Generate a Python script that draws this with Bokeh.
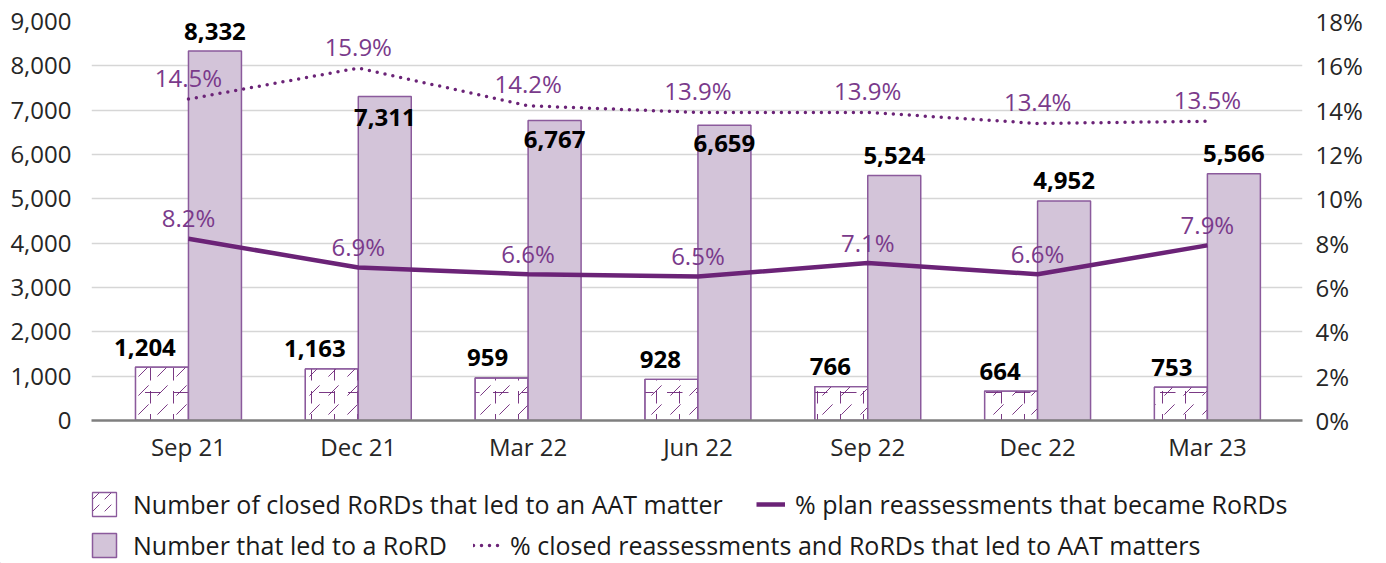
from bokeh.plotting import figure
from bokeh.layouts import column
from bokeh.models import (ColumnDataSource, Range1d, LinearAxis, FixedTicker,
                          NumeralTickFormatter, PrintfTickFormatter, Legend, LegendItem)
from bokeh.core.properties import value
from bokeh.embed import file_html
from bokeh.resources import INLINE

# ---------------- data ----------------
categories = ["Sep 21", "Dec 21", "Mar 22", "Jun 22", "Sep 22", "Dec 22", "Mar 23"]
aat_matters = [1204, 1163, 959, 928, 766, 664, 753]
rord_numbers = [8332, 7311, 6767, 6659, 5524, 4952, 5566]
pct_plan_to_rord = [8.2, 6.9, 6.6, 6.5, 7.1, 6.6, 7.9]
pct_closed_to_aat = [14.5, 15.9, 14.2, 13.9, 13.9, 13.4, 13.5]
left_ticks = [0, 1000, 2000, 3000, 4000, 5000, 6000, 7000, 8000, 9000]
right_ticks = [0, 2, 4, 6, 8, 10, 12, 14, 16, 18]
legend_labels = ["Number of closed RoRDs that led to an AAT matter",
                 "% plan reassessments that became RoRDs",
                 "Number that led to a RoRD",
                 "% closed reassessments and RoRDs that led to AAT matters"]

# ---------------- styles ----------------
FONT = "Open Sans"
PURPLE = "#6B2377"
LABEL_PURPLE = "#7A3A8B"
BAR_FILL = "#D3C4D9"
BAR_LINE = "#8B5A9C"
rord_label_dy = [-20, 21, 19, 18, -20, -20, -20]
aat_label_dx = [-17, -17, -14, -11, -11, -11, -9]
BAR_W = 0.312
HATCH_LAYERS = [("right_diagonal_dash", 19), ("vertical_dash", 23), ("horizontal_dash", 29)]

idx = list(range(len(categories)))

W = 1386
H_MAIN = 470
H_LEG = 563 - H_MAIN

p = figure(width=W, height=H_MAIN, x_range=Range1d(-0.571, 6.56), y_range=Range1d(0, 9000),
           output_backend="svg", toolbar_location=None,
           min_border_left=91, min_border_right=84, min_border_top=21, min_border_bottom=50)
p.frame_align = False
p.extra_y_ranges = {"pct": Range1d(0, 18)}
p.outline_line_color = None
p.xgrid.visible = False

# left axis
ya = p.yaxis[0]
ya.ticker = FixedTicker(ticks=left_ticks)
ya.formatter = NumeralTickFormatter(format="0,0")
ya.axis_line_color = None
ya.major_tick_line_color = None
ya.minor_tick_line_color = None
ya.major_label_text_font = FONT
ya.major_label_text_font_size = "24px"
ya.major_label_text_color = "#262626"
ya.major_label_standoff = 14

p.ygrid.ticker = FixedTicker(ticks=left_ticks)
p.ygrid.grid_line_color = "#D6D6D6"
p.ygrid.grid_line_width = 1.5

# right axis
ra = LinearAxis(y_range_name="pct", ticker=FixedTicker(ticks=right_ticks),
                formatter=PrintfTickFormatter(format="%d%%"))
ra.axis_line_color = None
ra.major_tick_line_color = None
ra.minor_tick_line_color = None
ra.major_label_text_font = FONT
ra.major_label_text_font_size = "24px"
ra.major_label_text_color = "#262626"
ra.major_label_standoff = 7
p.add_layout(ra, "right")

# bottom axis
xa = p.xaxis[0]
xa.ticker = FixedTicker(ticks=idx)
xa.major_label_overrides = {i: c for i, c in zip(idx, categories)}
xa.axis_line_color = "#7F7F7F"
xa.axis_line_width = 2.5
xa.major_tick_line_color = None
xa.minor_tick_line_color = None
xa.major_label_text_font = FONT
xa.major_label_text_font_size = "24px"
xa.major_label_text_color = "#262626"
xa.major_label_standoff = 3

# ---------------- sources ----------------
aat_src = ColumnDataSource(dict(
    x=[i - BAR_W / 2 for i in idx], top=aat_matters,
    txt=[f"{v:,}" for v in aat_matters], dx=aat_label_dx))
rord_src = ColumnDataSource(dict(
    x=[i + BAR_W / 2 for i in idx], top=rord_numbers,
    txt=[f"{v:,}" for v in rord_numbers], dy=rord_label_dy))
plan_src = ColumnDataSource(dict(x=idx, y=pct_plan_to_rord,
                                 txt=[f"{v:.1f}%" for v in pct_plan_to_rord]))
aat_pct_src = ColumnDataSource(dict(x=idx, y=pct_closed_to_aat,
                                    txt=[f"{v:.1f}%" for v in pct_closed_to_aat]))

HATCH_BASE = dict(fill_color="white", line_color=BAR_LINE, line_width=1.3)
HATCH_STYLE = dict(hatch_color=PURPLE, hatch_weight=1.0, hatch_alpha=0.9)
RORD_STYLE = dict(fill_color=BAR_FILL, line_color=BAR_LINE, line_width=1.5)
PLAN_STYLE = dict(line_color=PURPLE, line_width=4.5)
AATP_STYLE = dict(line_color=PURPLE, line_width=3.5, line_dash="0 8", line_cap="round")

# ---------------- bars ----------------
p.vbar(x="x", top="top", width=BAR_W, source=aat_src, **HATCH_BASE)
for pat, sc in HATCH_LAYERS:
    p.vbar(x="x", top="top", width=BAR_W, source=aat_src, fill_alpha=0, line_alpha=0,
           hatch_pattern=pat, hatch_scale=sc, **HATCH_STYLE)
p.vbar(x="x", top="top", width=BAR_W, source=aat_src, fill_alpha=0,
       line_color=BAR_LINE, line_width=1.3)
p.vbar(x="x", top="top", width=BAR_W, source=rord_src, **RORD_STYLE)

# ---------------- lines ----------------
p.line("x", "y", source=plan_src, y_range_name="pct", **PLAN_STYLE)
p.line("x", "y", source=aat_pct_src, y_range_name="pct", **AATP_STYLE)

# ---------------- labels ----------------
p.text("x", "top", text="txt", source=aat_src, x_offset="dx", y_offset=-20,
       text_align="center", text_baseline="middle", text_font=value(FONT),
       text_font_size="24px", text_font_style="bold", text_color="black")
p.text("x", "top", text="txt", source=rord_src, y_offset="dy",
       text_align="center", text_baseline="middle", text_font=value(FONT),
       text_font_size="24px", text_font_style="bold", text_color="black")
p.text("x", "y", text="txt", source=plan_src, y_range_name="pct", y_offset=-21,
       text_align="center", text_baseline="middle", text_font=value(FONT),
       text_font_size="24px", text_color=LABEL_PURPLE)
p.text("x", "y", text="txt", source=aat_pct_src, y_range_name="pct", y_offset=-22,
       text_align="center", text_baseline="middle", text_font=value(FONT),
       text_font_size="24px", text_color=LABEL_PURPLE)

# ---------------- legend panel ----------------
lp = figure(width=W, height=H_LEG, x_range=Range1d(0, 1), y_range=Range1d(0, 1),
            output_backend="svg", toolbar_location=None,
            x_axis_location=None, y_axis_location=None,
            min_border=0, min_border_left=0, min_border_right=0,
            min_border_top=0, min_border_bottom=0, outline_line_color=None)
lp.frame_align = False
lp.grid.visible = False
# legend-only renderers: kept entirely outside the visible range
lg_hatch = lp.vbar(x=[-50], top=[-50], bottom=[-51], width=0.1, **HATCH_BASE,
                   hatch_pattern="right_diagonal_dash", hatch_scale=12, **HATCH_STYLE)
lg_rord = lp.vbar(x=[-50], top=[-50], bottom=[-51], width=0.1, **RORD_STYLE)
lg_plan = lp.line(x=[-50, -49], y=[-50, -50], **PLAN_STYLE)
lg_aatp = lp.line(x=[-50, -49], y=[-50, -50], **AATP_STYLE)


def add_legend(label, renderer, loc, gw, gh, standoff):
    lg = Legend(items=[LegendItem(label=label, renderers=[renderer])], location=loc,
                orientation="horizontal", glyph_width=gw, glyph_height=gh,
                label_standoff=standoff, label_height=gh,
                label_text_font=FONT, label_text_font_size="25px",
                label_text_color="#1A1A1A", padding=0, margin=0,
                border_line_alpha=0, background_fill_alpha=0)
    lp.add_layout(lg, "center")


ROW1, ROW2 = 42, 1
add_legend(legend_labels[0], lg_hatch, (89, ROW1), 30, 30, 14)
add_legend(legend_labels[1], lg_plan, (756, ROW1), 29, 30, 10)
add_legend(legend_labels[2], lg_rord, (89, ROW2), 30, 30, 14)
add_legend(legend_labels[3], lg_aatp, (473, ROW2), 29, 30, 8)

layout = column(p, lp, spacing=0)
open("out.html", "w").write(file_html(layout, INLINE))
